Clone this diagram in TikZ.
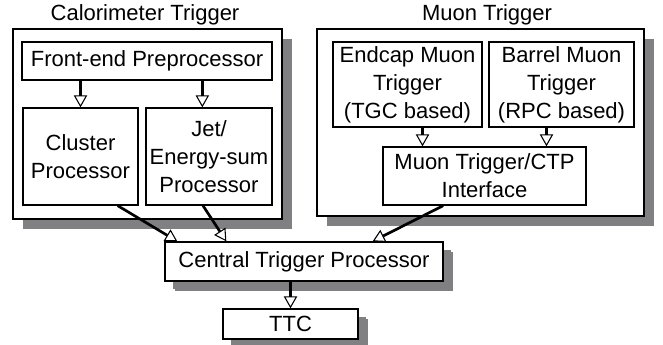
\documentclass[tikz,border=0pt]{standalone}
\usepackage{fontspec}
\setmainfont{Liberation Sans}
\usetikzlibrary{arrows.meta,shadows}
\definecolor{shadowGray}{RGB}{128,128,131}

\begin{document}
\begin{tikzpicture}[x=0.75pt, y=-0.75pt, font=\fontsize{16.5}{21}\selectfont]
    % Styles
    \tikzstyle{trigger} = [rectangle, draw=black, fill=white, line width=1pt, drop shadow={shadow xshift=7.5pt, shadow yshift=-7.5pt, fill=shadowGray, opacity=1}]
    \tikzstyle{unit} = [rectangle, draw=black, fill=white, line width=1pt, align=center, inner sep=0pt]
    \tikzstyle{title} = [anchor=base, inner sep=0pt]
    \tikzstyle{arrow} = [-{Triangle[open, length=9pt, width=10pt, line width=0.8pt]}, line width=2pt, black]

    \useasboundingbox (0,0) rectangle (663,345);

    % Outer groups
    \node[trigger, minimum width=201.75pt, minimum height=142.5pt] (calo) at (147.5,124) {};
    \node[trigger, minimum width=245.25pt, minimum height=140.25pt] (muon) at (480.5,122.5) {};
    \node[title] (calotitle) at (145,21) {Calorimeter Trigger};
    \node[title] (muontitle) at (487,21) {Muon Trigger};

    % Calorimeter units
    \node[unit, minimum width=187.5pt, minimum height=28.5pt] (fep) at (147,61) {Front-end Preprocessor};
    \node[unit, minimum width=86.25pt, minimum height=72.75pt] (cluster) at (80.5,156.5) {Cluster\\Processor};
    \node[unit, minimum width=94.5pt, minimum height=72.75pt] (jet) at (209,156.5) {Jet/\\Energy-sum\\Processor};

    % Muon units
    \node[unit, minimum width=111.75pt, minimum height=63.75pt] (endcap) at (407.5,84.5) {Endcap Muon\\Trigger\\(TGC based)};
    \node[unit, minimum width=108.75pt, minimum height=63.75pt] (barrel) at (561.5,84.5) {Barrel Muon\\Trigger\\(RPC based)};
    \node[unit, minimum width=152.25pt, minimum height=43.5pt] (iface) at (484.5,176) {Muon Trigger/CTP\\Interface};

    % Central nodes
    \node[trigger, minimum width=208.5pt, minimum height=29.25pt, drop shadow={shadow xshift=6pt, shadow yshift=-6pt, fill=shadowGray, opacity=1}] (ctp) at (304,261.5) {Central Trigger Processor};
    \node[trigger, minimum width=101.25pt, minimum height=22.5pt, drop shadow={shadow xshift=6pt, shadow yshift=-6pt, fill=shadowGray, opacity=1}] (ttc) at (290.5,324) {TTC};

    % Arrows
    \draw[arrow] (fep.south -| cluster.north) -- (cluster.north);
    \draw[arrow] ([xshift=-5pt]fep.south -| jet.north) -- ([xshift=-5pt]jet.north);
    \draw[arrow] ([xshift=-46.5pt]iface.north |- endcap.south) -- ([xshift=-46.5pt]iface.north);
    \draw[arrow] ([xshift=46.5pt]iface.north |- barrel.south) -- ([xshift=46.5pt]iface.north);
    \draw[arrow] ([xshift=-15.75pt]cluster.south east) -- ([xshift=9.75pt]ctp.north west);
    \draw[arrow] ([xshift=-4.5pt]jet.south) -- ([xshift=46.5pt]ctp.north west);
    \draw[arrow] ([xshift=-31pt]iface.south) -- ([xshift=-53.25pt]ctp.north east);
    \draw[arrow] (ctp.south -| ttc.north) -- (ttc.north);
\end{tikzpicture}
\end{document}
